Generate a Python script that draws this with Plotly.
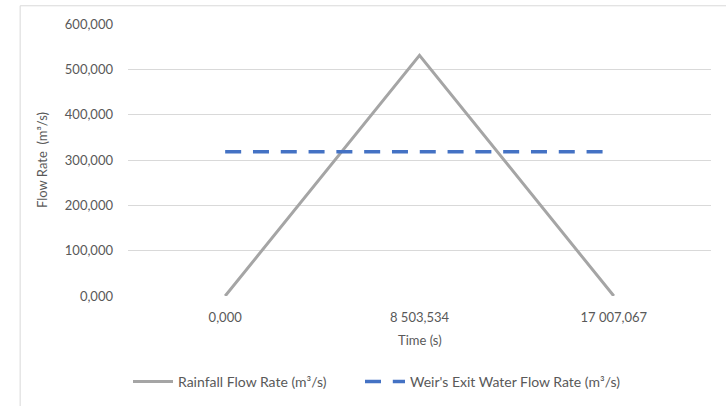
import plotly.graph_objects as go

time_labels = ["0,000", "8 503,534", "17 007,067"]
rainfall = [0.0, 531.0, 0.0]
weir = [318.0, 318.0, 318.0]
y_ticks = [0, 100, 200, 300, 400, 500, 600]
y_tick_labels = ["0,000", "100,000", "200,000", "300,000", "400,000", "500,000", "600,000"]

FONT = "Lato, Open Sans, sans-serif"
TXT = "#595959"

fig = go.Figure()
fig.add_trace(go.Scatter(
    x=time_labels, y=rainfall, mode="lines",
    name="Rainfall Flow Rate (m³/s)",
    line=dict(color="#A5A5A5", width=3),
    legend="legend",
))
fig.add_trace(go.Scatter(
    x=time_labels, y=weir, mode="lines",
    name="Weir's Exit Water Flow Rate (m³/s)",
    line=dict(color="#4472C4", width=3.5, dash="16px,11.8px"),
    legend="legend2",
))

leg_y = (296 - 382) / 272
leg_common = dict(orientation="h", xanchor="left", y=leg_y, yanchor="middle",
                  font=dict(size=14, color=TXT), itemwidth=40, bgcolor="rgba(0,0,0,0)")

fig.update_layout(
    width=726, height=406,
    margin=dict(l=128, r=15, t=24, b=110, autoexpand=False),
    paper_bgcolor="white", plot_bgcolor="white",
    font=dict(family=FONT, size=13, color=TXT),
    showlegend=True,
    legend=dict(x=0.0, **leg_common),
    legend2=dict(x=(360 - 128) / 583, **leg_common),
    xaxis=dict(type="category", range=[-0.5, 2.5], showgrid=False, zeroline=False,
               showline=False, ticks="", ticklabelstandoff=12,
               tickfont=dict(size=13, color=TXT)),
    yaxis=dict(range=[0, 600], tickvals=y_ticks, ticktext=y_tick_labels,
               showgrid=True, gridcolor="#D9D9D9", gridwidth=1, zeroline=False,
               showline=False, ticks="", ticklabelstandoff=14,
               tickfont=dict(size=13, color=TXT)),
    shapes=[dict(type="rect", xref="paper", yref="paper",
                 x0=-0.185, x1=1.1, y0=-0.6, y1=1.067,
                 line=dict(color="#D9D9D9", width=1), fillcolor="rgba(0,0,0,0)", layer="below")],
    annotations=[
        dict(text="Time (s)", xref="paper", yref="paper", x=0.5, y=(296 - 340) / 272,
             xanchor="center", yanchor="middle", showarrow=False,
             font=dict(size=13, color=TXT)),
        dict(text="Flow Rate  (m³/s)", xref="paper", yref="paper", x=(42 - 128) / 583, y=0.5,
             xanchor="center", yanchor="middle", showarrow=False, textangle=-90,
             font=dict(size=13, color=TXT)),
    ],
)

fig.write_html("out.html", config={"displayModeBar": False},
               post_script="document.body.style.margin='0';document.body.style.overflow='hidden';")
